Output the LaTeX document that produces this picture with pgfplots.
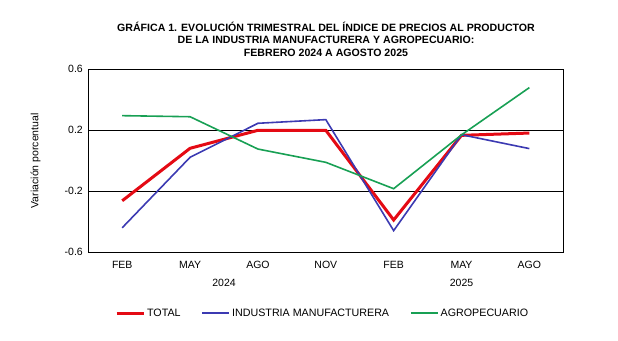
\documentclass[border=0pt]{standalone}
\usepackage{pgfplots}
\pgfplotsset{compat=1.18}
\usepackage{fontspec}
\setmainfont{Liberation Sans}
\definecolor{cred}{RGB}{228,10,20}
\definecolor{cblue}{RGB}{60,58,178}
\definecolor{cgreen}{RGB}{24,160,84}
\begin{document}
\begin{tikzpicture}[x=1pt,y=1pt]
\path (0,0) rectangle (618,340);
\node[font=\bfseries\fontsize{10.6}{12}\selectfont] at (326,313) {GRÁFICA 1. EVOLUCIÓN TRIMESTRAL DEL ÍNDICE DE PRECIOS AL PRODUCTOR};
\node[font=\bfseries\fontsize{10.6}{12}\selectfont] at (326,300) {DE LA INDUSTRIA MANUFACTURERA Y AGROPECUARIO:};
\node[font=\bfseries\fontsize{10.6}{12}\selectfont] at (326,287) {FEBRERO 2024 A AGOSTO 2025};
\begin{axis}[
  at={(88.3pt,87.7pt)}, anchor=south west,
  scale only axis, width=475pt, height=183pt,
  xmin=-0.5, xmax=6.5, ymin=-0.6, ymax=0.6,
  xtick={0,1,2,3,4,5,6},
  xticklabels={FEB,MAY,AGO,NOV,FEB,MAY,AGO},
  ytick={-0.6,-0.2,0.2,0.6},
  yticklabel style={/pgf/number format/fixed,/pgf/number format/precision=1,/pgf/number format/fixed zerofill},
  /pgf/number format/assume math mode=true,
  major tick length=0pt,
  ymajorgrids, grid style={black, line width=0.8pt},
  axis line style={black, line width=0.8pt},
  tick label style={font=\fontsize{10.5}{12}\selectfont},
  xticklabel style={yshift=-5pt},
  yticklabel style={xshift=-2pt},
  ylabel={Variación porcentual},
  ylabel style={font=\fontsize{10.5}{12}\selectfont, at={(axis description cs:-0.0933,0.5)}, anchor=south},
  legend columns=3,
  legend style={draw=none, fill=none, at={(axis description cs:0.056,-0.332)}, anchor=west, inner sep=0pt,
    font=\fontsize{10.7}{12}\selectfont,
    /tikz/every odd column/.append style={column sep=0pt},
    /tikz/every even column/.append style={column sep=19pt}},
  legend image code/.code={\draw[#1] (0pt,0pt) -- (27pt,0pt);},
  clip=false,
]
\addplot[cred, line width=3pt] coordinates {(0,-0.262) (1,0.082) (2,0.2) (3,0.2) (4,-0.388) (5,0.167) (6,0.182)};
\addplot[cblue, line width=1.6pt] coordinates {(0,-0.439) (1,0.023) (2,0.246) (3,0.27) (4,-0.458) (5,0.171) (6,0.08)};
\addplot[cgreen, line width=1.6pt] coordinates {(0,0.296) (1,0.289) (2,0.077) (3,-0.01) (4,-0.183) (5,0.17) (6,0.48)};
\legend{TOTAL, INDUSTRIA MANUFACTURERA, AGROPECUARIO}
\node[font=\fontsize{10.5}{12}\selectfont] at (axis cs:1.5,-0.6) [yshift=-31pt] {2024};
\node[font=\fontsize{10.5}{12}\selectfont] at (axis cs:5,-0.6) [yshift=-31pt] {2025};
\end{axis}
\end{tikzpicture}
\end{document}
